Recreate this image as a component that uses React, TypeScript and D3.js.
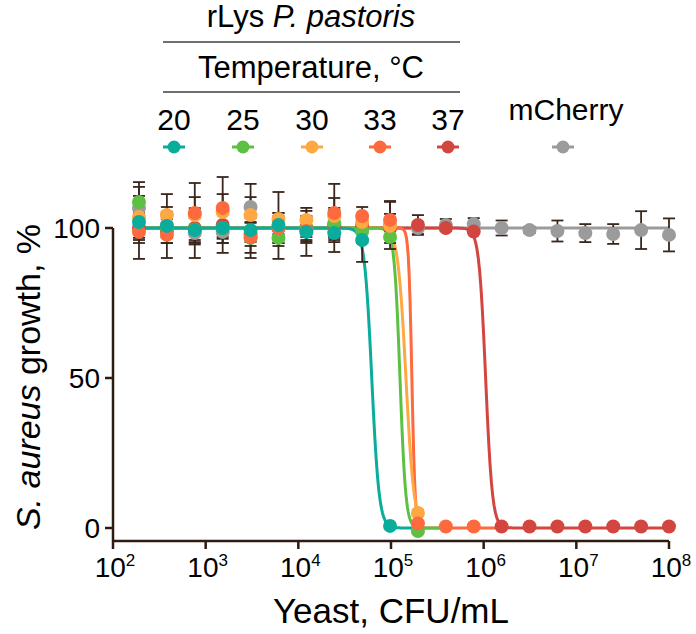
import React from 'react';
import * as d3 from 'd3';

// yeast concentrations (twofold dilutions), CFU/mL
const cfu = [190.7, 381.5, 762.9, 1526, 3052, 6104, 12207, 24414, 48828, 97656,
  195313, 390625, 781250, 1562500, 3125000, 6250000, 12500000, 25000000, 50000000, 100000000];

// S. aureus growth, % (mean and SD)
const mean20 = [102, 100.7, 99.3, 100, 99.3, 101, 98.7, 98.3, 96, 0.7];
const sd20 = [6, 4, 4, 5, 4, 3, 8, 6.3, 7.3, 0];
const mean25 = [108.7, 100, 99.5, 100, 96.7, 96.7, 99.5, 101.7, 99, 97, -1];
const sd25 = [6.6, 5, 5, 5, 5, 7, 4, 5, 4, 2, 0];
const mean30 = [103.7, 104.3, 104.3, 105.3, 104.3, 103, 102.7, 104, 102, 100.7, 5];
const sd30 = [7, 7, 6, 6, 6, 9, 3, 6, 2, 4, 1];
const mean33 = [98.7, 97.7, 105, 106.7, 97, 100, 99, 105, 104, 102.7, 1.5, 0.5, 0.5];
const sd33 = [9, 7.7, 10, 10.3, 7, 5, 4, 9.7, 3, 6, 0, 0, 0];
const mean37 = [100, 99, 100, 101, 98, 100, 100, 101, 101, 100, 101, 100, 98.8,
  0.5, 0.5, 0.5, 0.5, 0.5, 0.5, 0.5];
const sd37 = [5, 4, 4, 4, 4, 3, 3, 4, 3, 3, 3.3, 0, 0, 0, 0, 0, 0, 0, 0, 0];
const meanCherry = [106.7, 101, 98.3, 98.7, 107, 100, 100, 101, 100, 101,
  100, 101, 101.3, 100, 99.3, 99, 98.3, 98, 99.3, 97.7];
const sdCherry = [7, 6, 8.3, 7, 7.7, 5, 4, 5, 4, 8, 2, 2, 2, 2.5, 1, 3.5, 3, 3.3, 6.3, 5.5];

// fitted dose-response curves (top 100, bottom 0)
const fitEC50 = [62000, 125000, 145000, 168000, 1050000];
const fitHill = [11, 14, 10, 25, 12];
const fitEnd = [195313, 390625, 195313, 1562500, 100000000];

const tempLabels = ['20', '25', '30', '33', '37'];
const xTicks = [2, 3, 4, 5, 6, 7, 8];
const yTicks = [0, 50, 100];

const colors = ['#0aac9c', '#5cc143', '#fea843', '#fe693d', '#d3463f'];
const grey = '#9b9b9b';
const axisColor = '#2e1b12';
const errColor = '#3a261c';
const font = '"Liberation Sans", Arial, Helvetica, sans-serif';

const x = d3.scaleLog().domain([1e2, 1e8]).range([113, 669]);
const y = d3.scaleLinear().domain([0, 100]).range([528, 228]);

const tempSeries = [
  { mean: mean20, sd: sd20 },
  { mean: mean25, sd: sd25 },
  { mean: mean30, sd: sd30 },
  { mean: mean33, sd: sd33 },
  { mean: mean37, sd: sd37 },
];

const line = d3.line<[number, number]>().x(d => x(d[0])).y(d => y(d[1]));

function fitPath(i: number) {
  const lo = Math.log10(cfu[0]);
  const hi = Math.log10(fitEnd[i]);
  const pts = d3.range(401).map(k => {
    const xv = Math.pow(10, lo + (hi - lo) * k / 400);
    return [xv, 100 / (1 + Math.pow(xv / fitEC50[i], fitHill[i]))] as [number, number];
  });
  return line(pts) || '';
}

const flatPath = line([[cfu[0], 100], [cfu[cfu.length - 1], 100]]) || '';

function ErrorBars({ mean, sd }: { mean: number[]; sd: number[] }) {
  return (
    <g stroke={errColor} strokeWidth={1.8}>
      {mean.map((m, i) => {
        if (!sd[i]) return null;
        const cx = x(cfu[i]);
        const y1 = y(m + sd[i]);
        const y2 = y(m - sd[i]);
        return (
          <g key={i}>
            <line x1={cx} x2={cx} y1={y1} y2={y2} />
            <line x1={cx - 6} x2={cx + 6} y1={y1} y2={y1} />
            <line x1={cx - 6} x2={cx + 6} y1={y2} y2={y2} />
          </g>
        );
      })}
    </g>
  );
}

function Dots({ mean, color }: { mean: number[]; color: string }) {
  return (
    <g fill={color}>
      {mean.map((m, i) => <circle key={i} cx={x(cfu[i])} cy={y(m)} r={7} />)}
    </g>
  );
}

function LegendMark({ cx, color }: { cx: number; color: string }) {
  return (
    <g>
      <line x1={cx - 11} x2={cx + 11} y1={147} y2={147} stroke={color} strokeWidth={3} />
      <circle cx={cx} cy={147} r={6.5} fill={color} />
    </g>
  );
}

export default function App() {
  const legendX = [174, 243, 312, 380, 448];
  // drawing order of markers (bottom to top)
  const dotOrder = [4, 1, 2, 3, 0];
  const curveOrder = [4, 3, 2, 1, 0];
  return (
    <svg width={696} height={634} style={{ position: 'absolute', left: 0, top: 0, background: '#fff' }}
      fontFamily={font}>
      {/* legend */}
      <text x={311} y={27} fontSize={31} textAnchor="middle" fill="#000">
        rLys <tspan fontStyle="italic">P. pastoris</tspan>
      </text>
      <line x1={163} x2={460} y1={42} y2={42} stroke="#6f6f6f" strokeWidth={2} />
      <text x={311} y={78} fontSize={31} textAnchor="middle" fill="#000">Temperature, °C</text>
      <line x1={163} x2={460} y1={92} y2={92} stroke="#6f6f6f" strokeWidth={2} />
      {tempLabels.map((t, i) => (
        <text key={t} x={legendX[i]} y={130} fontSize={30} textAnchor="middle" fill="#000">{t}</text>
      ))}
      <text x={566} y={120} fontSize={30} textAnchor="middle" fill="#000">mCherry</text>
      {tempLabels.map((t, i) => <LegendMark key={t} cx={legendX[i]} color={colors[i]} />)}
      <LegendMark cx={563} color={grey} />

      {/* curves */}
      <g fill="none" strokeWidth={3}>
        <path d={flatPath} stroke={grey} />
        {curveOrder.map(i => <path key={i} d={fitPath(i)} stroke={colors[i]} />)}
      </g>

      {/* error bars */}
      <ErrorBars mean={meanCherry} sd={sdCherry} />
      {dotOrder.map(i => <ErrorBars key={i} mean={tempSeries[i].mean} sd={tempSeries[i].sd} />)}

      {/* points */}
      <Dots mean={meanCherry} color={grey} />
      {dotOrder.map(i => <Dots key={i} mean={tempSeries[i].mean} color={colors[i]} />)}

      {/* axes */}
      <g stroke={axisColor} strokeWidth={2.5}>
        <line x1={113} x2={113} y1={y(100)} y2={541} />
        {yTicks.map(t => <line key={t} x1={105} x2={113} y1={y(t)} y2={y(t)} />)}
        <line x1={113} x2={669} y1={541} y2={541} />
        {xTicks.map(t => <line key={t} x1={x(10 ** t)} x2={x(10 ** t)} y1={541} y2={549} />)}
      </g>
      {yTicks.map(t => (
        <text key={t} x={100} y={y(t)} dy="0.36em" fontSize={28} textAnchor="end" fill="#000">{t}</text>
      ))}
      {xTicks.map(t => (
        <text key={t} x={x(10 ** t) + 2} y={577} fontSize={28} textAnchor="middle" fill="#000">
          10<tspan dy={-11} fontSize={17}>{t}</tspan>
        </text>
      ))}
      <text x={391} y={623} fontSize={35} textAnchor="middle" fill="#000">Yeast, CFU/mL</text>
      <text transform="translate(40,377) rotate(-90)" fontSize={34} textAnchor="middle" fill="#000">
        <tspan fontStyle="italic">S. aureus</tspan> growth, %
      </text>
    </svg>
  );
}
